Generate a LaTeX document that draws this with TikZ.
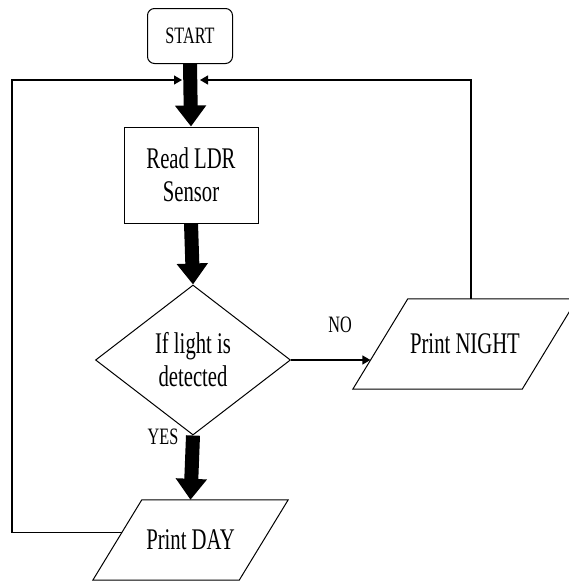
\documentclass[tikz,border=0pt]{standalone}
\usepackage{fontspec}
\setmainfont[FakeStretch=0.69]{Liberation Serif}
\usetikzlibrary{arrows.meta,shapes.geometric,calc}
\begin{document}
\begin{tikzpicture}[x=1pt,y=-1pt,
  outline/.style={draw,line width=1pt,inner sep=0pt,align=center},
  bigtext/.style={font=\fontsize{30}{33}\selectfont},
  smalltext/.style={font=\fontsize{23.5}{26}\selectfont},
  startbox/.style={outline,smalltext,rounded corners=7pt,minimum width=85pt,minimum height=55pt},
  procbox/.style={outline,bigtext,minimum width=134pt,minimum height=96pt},
  decision/.style={outline,bigtext,diamond,aspect=1.3,minimum width=195pt,minimum height=150pt},
  iobox/.style={bigtext,inner sep=0pt,align=center},
  lbl/.style={smalltext,inner sep=0pt},
  bigarrow/.style={line width=14pt,-{Triangle[width=30pt,length=21pt]}},
  thinarrow/.style={line width=1.2pt,-{Triangle[width=9pt,length=8pt]}},
  para/.style={line width=1pt}]
\useasboundingbox (0,0) rectangle (569,581);
\node[startbox] (start) at (190,36) {START};
\node[procbox] (read) at (191,175) {Read LDR\\Sensor};
\node[decision] (dec) at (193,360) {If light is\\detected};
% input/output parallelograms: text nodes sized to the bounding box, outline drawn from their corners
\node[iobox,minimum width=224pt,minimum height=90pt] (night) at (465,344) {Print NIGHT};
\node[iobox,minimum width=195pt,minimum height=80pt] (day) at (190.5,540) {Print DAY};
\draw[para] ([xshift=55pt]night.north west) -- (night.north east) -- ([xshift=-55pt]night.south east) -- (night.south west) -- cycle;
\draw[para] ([xshift=49pt]day.north west) -- (day.north east) -- ([xshift=-49pt]day.south east) -- (day.south west) -- cycle;
\node[lbl] (no) at (340,325) {NO};
\node[lbl] (yes) at (163,437) {YES};
\coordinate (jl) at (182,80);
\coordinate (jr) at (200,80);
\coordinate (lc) at (12,80);
\coordinate (dayin) at ($(day.south west)!0.59!([xshift=49pt]day.north west)$);
\coordinate (nightin) at ($(night.south west)!0.32!([xshift=55pt]night.north west)$);
\coordinate (nighttop) at ([xshift=6pt]night.north);
\draw[bigarrow] (start.south) -- (read.north);
\draw[bigarrow] (read.south) -- (dec.north);
\draw[bigarrow] (dec.south) -- (day.north);
\draw[thinarrow] (dec.east) -- (dec.east -| nightin);
\draw[thinarrow] (dayin) -| (lc) -- (jl);
\draw[thinarrow] (nighttop) |- (jr);
\end{tikzpicture}
\end{document}
